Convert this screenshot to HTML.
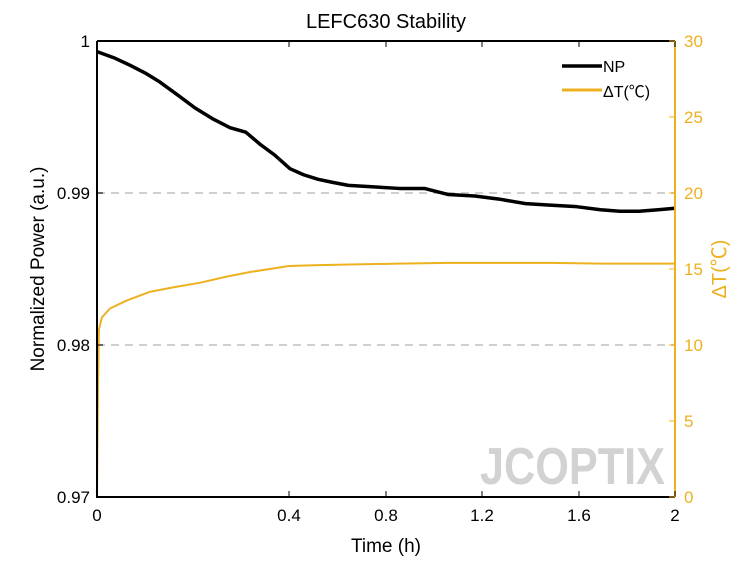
<!DOCTYPE html>
<html><head><meta charset="utf-8"><style>
body{margin:0;background:#fff;}
svg text{font-family:"Liberation Sans","Noto Sans CJK SC",sans-serif;}
</style></head><body>
<svg id="chart" width="747" height="560">
</svg>
<script>
const tickLabelsX = ["0","0.4","0.8","1.2","1.6","2"];
const tickPosX = [0,0.4,0.8,1.2,1.6,2];
const tickLabelsLeft = ["0.97","0.98","0.99","1"];
const tickValsLeft = [0.97,0.98,0.99,1];
const tickValsRight = [0,5,10,15,20,25,30];
const npTime = [0,0.035,0.069,0.10,0.131,0.17,0.204,0.24,0.277,0.31,0.340,0.37,0.404,0.46,0.52,0.58,0.645,0.75,0.855,0.96,1.06,1.17,1.27,1.38,1.48,1.59,1.69,1.77,1.85,1.93,2.0];
const npVal = [0.9993,0.9989,0.9984,0.9979,0.9973,0.9964,0.9956,0.9949,0.9943,0.9940,0.9932,0.9925,0.9916,0.9912,0.9909,0.9907,0.9905,0.9904,0.9903,0.9903,0.9899,0.9898,0.9896,0.9893,0.9892,0.9891,0.9889,0.9888,0.9888,0.9889,0.9890];
const dtTime = [0,0.002,0.004,0.01,0.027,0.06,0.11,0.16,0.215,0.27,0.319,0.36,0.40,0.5,0.65,0.85,1.06,1.27,1.48,1.7,1.85,2.0];
const dtVal = [0,7,11.0,11.8,12.4,12.9,13.5,13.8,14.1,14.5,14.8,15.0,15.2,15.25,15.3,15.35,15.4,15.4,15.4,15.35,15.35,15.35];

const L=97,R=675,T=41,B=497;
const xPix=[97,289,386,482,579,675];
function xs(t){const i=Math.min(4,Math.floor(t/0.4));return xPix[i]+(t-i*0.4)/0.4*(xPix[i+1]-xPix[i]);}
const yl=v=>B-(v-0.97)/0.03*(B-T);
const yr=v=>B-v/30*(B-T);
const svg=document.getElementById('chart');
const NS='http://www.w3.org/2000/svg';
function mk(tag,attrs,txt){const e=document.createElementNS(NS,tag);for(const k in attrs)e.setAttribute(k,attrs[k]);if(txt!==undefined)e.textContent=txt;svg.appendChild(e);return e;}

[0.98,0.99].forEach(v=>{const g=mk('line',{x1:L,x2:R,y1:yl(v),y2:yl(v),stroke:'#d0d0d0','stroke-width':2,'stroke-dasharray':'8,6'});

});

const lg=mk('text',{x:480,y:484,'font-size':52,'font-weight':'bold',fill:'#d2d2d2',textLength:185,lengthAdjust:'spacingAndGlyphs'},'JCOPTIX');



const dtp=mk('polyline',{points:dtTime.map((t,i)=>xs(t)+','+yr(dtVal[i])).join(' '),fill:'none',stroke:'#edb120','stroke-width':2});


const npp=mk('polyline',{points:npTime.map((t,i)=>xs(t)+','+yl(npVal[i])).join(' '),fill:'none',stroke:'#000','stroke-width':3.5,'stroke-linejoin':'round'});



const ax=mk('path',{d:`M${L},${T}H${R}M${L},${T}V${B}H${R}`,stroke:'#000','stroke-width':2,fill:'none'});


const ra=mk('line',{x1:R,x2:R,y1:T,y2:B,stroke:'#edb120','stroke-width':2});



tickPosX.forEach((t,i)=>{const x=xs(t);
mk('line',{x1:x,x2:x,y1:B,y2:B-6,stroke:'#000','stroke-width':1});
mk('line',{x1:x,x2:x,y1:T,y2:T+6,stroke:'#000','stroke-width':1});
const tx=mk('text',{x:x,y:B+24,'font-size':17,'text-anchor':'middle'},tickLabelsX[i]);

});
tickValsLeft.forEach((v,i)=>{const y=yl(v);
mk('line',{x1:L,x2:L+6,y1:y,y2:y,stroke:'#000'});
const tx=mk('text',{x:L-7,y:y+6,'font-size':17,'text-anchor':'end'},tickLabelsLeft[i]);

});
tickValsRight.forEach(v=>{const y=yr(v);
mk('line',{x1:R,x2:R-6,y1:y,y2:y,stroke:'#edb120'});
const tx=mk('text',{x:R+9,y:y+6,'font-size':17,fill:'#edb120'},String(v));

});

const ti=mk('text',{x:386,y:28,'font-size':20,'text-anchor':'middle'},'LEFC630 Stability');


const xt=mk('text',{x:386,y:552,'font-size':19,'text-anchor':'middle'},'Time (h)');


const yt=mk('text',{x:0,y:0,'font-size':19,'text-anchor':'middle',transform:'translate(44,269) rotate(-90)'},'Normalized Power (a.u.)');


const y2=mk('text',{x:0,y:0,'font-size':20,'text-anchor':'middle',fill:'#edb120',transform:'translate(726,269) rotate(-90)'},'ΔT(℃)');



const l1=mk('line',{x1:562,x2:602,y1:66,y2:66,stroke:'#000','stroke-width':3.5});


const lt1=mk('text',{x:603,y:72,'font-size':16},'NP');


const l2=mk('line',{x1:562,x2:602,y1:90,y2:90,stroke:'#edb120','stroke-width':3});


const lt2=mk('text',{x:603,y:97,'font-size':16},'ΔT(℃)');


</script>
</body></html>
